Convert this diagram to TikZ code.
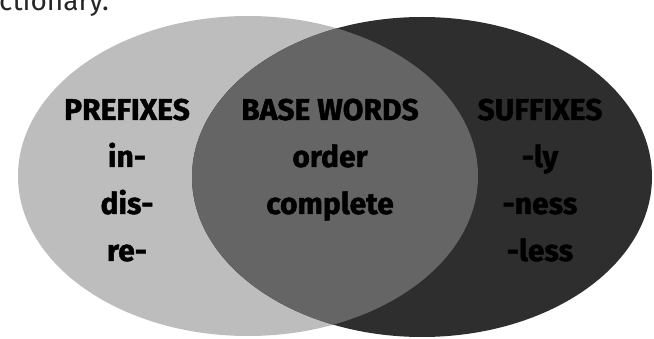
\documentclass[tikz,border=0pt]{standalone}
\usepackage{fontspec}
\setmainfont{Fira Sans}
\newfontfamily\heavyfont[BoldFeatures={FakeBold=1.5}]{Fira Sans}
\usetikzlibrary{positioning}

\definecolor{prefixgray}{HTML}{BDBDBD}
\definecolor{basegray}{HTML}{656565}
\definecolor{suffixgray}{HTML}{2E2E2E}

\begin{document}
\begin{tikzpicture}[x=1pt,y=-1pt,
  word/.style={font=\heavyfont\bfseries\fontsize{30}{30}\selectfont,text=black,inner sep=0pt,anchor=base},
  blob/.style={draw=none},
]
\useasboundingbox (0,0) rectangle (654,339);
\clip (0,0) rectangle (654,339);
\fill[white] (0,0) rectangle (654,339);

% the running text above
\node[font=\fontsize{28}{28}\selectfont,text=black!85,inner sep=0pt,anchor=base west] (txt) at (-1,11) {ctionary.};

% the two sets
\fill[blob,prefixgray] (248,176) ellipse [x radius=230,y radius=160];
\fill[blob,suffixgray] (422,177) ellipse [x radius=230,y radius=160];
\begin{scope}
\clip (248,176) ellipse [x radius=230,y radius=160];
\fill[blob,basegray] (422,177) ellipse [x radius=230,y radius=160];
\end{scope}

% the prefixes
\node[word] (p0) at (127,120) {PREFIXES};
\foreach \w [count=\i,remember=\i as \j (initially 0)] in {in-,dis-,re-}
\node[word,below=47pt of p\j.base,anchor=base] (p\i) {\w};

% the base words
\node[word] (b0) at (330,120) {BASE WORDS};
\foreach \w [count=\i,remember=\i as \j (initially 0)] in {order,complete}
\node[word,below=47pt of b\j.base,anchor=base] (b\i) {\w};

% the suffixes
\node[word] (s0) at (540,120) {SUFFIXES};
\foreach \w [count=\i,remember=\i as \j (initially 0)] in {-ly,-ness,-less}
\node[word,below=47pt of s\j.base,anchor=base] (s\i) {\w};
\end{tikzpicture}
\end{document}
